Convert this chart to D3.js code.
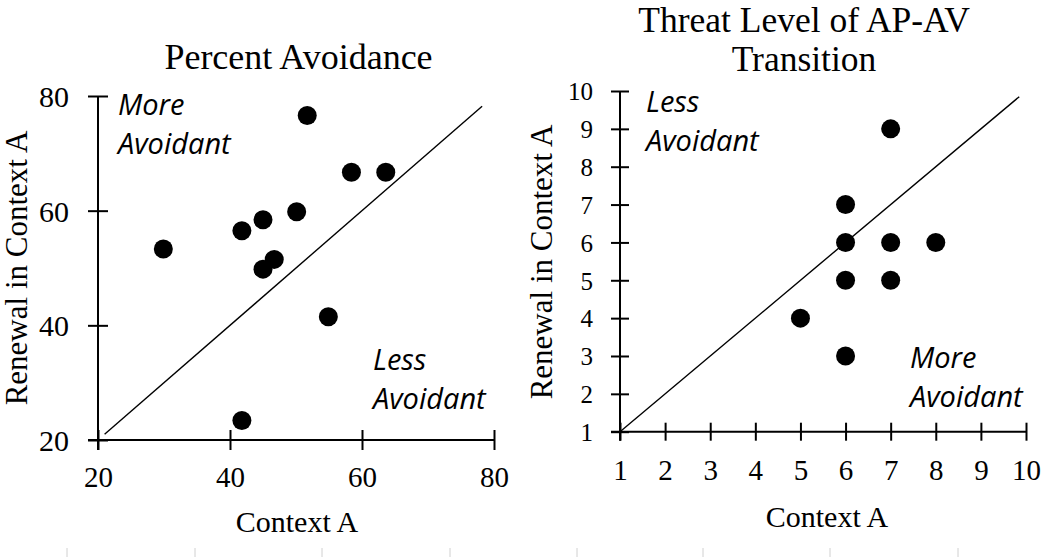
<!DOCTYPE html>
<html><head><meta charset="utf-8">
<script src="https://cdn.jsdelivr.net/npm/d3@7"></script>
<style>
html,body{margin:0;padding:0;background:#fff;}
svg{display:block;}
</style></head>
<body>
<svg id="chart" width="1050" height="557"></svg>
<script>
// ---- data ----
const leftTitle = "Percent Avoidance";
const rightTitle = ["Threat Level of AP-AV", "Transition"];
const xLabel = "Context A";
const yLabel = "Renewal in Context A";
const leftTicks = [20, 40, 60, 80];
const rightTicks = [1, 2, 3, 4, 5, 6, 7, 8, 9, 10];
const leftX = [51.7, 58.4, 63.6, 50.1, 45.0, 41.8, 29.9, 46.7, 45.0, 54.9, 41.8];
const leftY = [76.6, 66.7, 66.7, 59.8, 58.4, 56.5, 53.3, 51.5, 49.8, 41.5, 23.4];
const rightX = [7, 6, 6, 7, 8, 6, 7, 5, 6];
const rightY = [9, 7, 6, 6, 6, 5, 5, 4, 3];
const leftLine = [21, 78.2];
const rightLine = [1, 9.85];
const leftNotes = [["More", "Avoidant"], ["Less", "Avoidant"]];
const rightNotes = [["Less", "Avoidant"], ["More", "Avoidant"]];
const bottomMarks = [67, 195, 322, 450, 577, 703, 830, 958];

const svg = d3.select("#chart");
const serif = "'Liberation Serif','Times New Roman',serif";
const sans = "'Open Sans','Noto Sans',sans-serif";

function panel(cfg) {
  const x = d3.scaleLinear().domain(cfg.domain).range(cfg.xr);
  const y = d3.scaleLinear().domain(cfg.domain).range(cfg.yr);
  const g = svg.append("g");
  const tk = cfg.tick;

  // x axis
  const gx = g.append("g").attr("transform", `translate(0,${cfg.yr[0]})`)
    .call(d3.axisBottom(x).tickValues(cfg.ticks).tickSizeOuter(0).tickSize(tk));
  gx.select(".domain").attr("d", `M${cfg.xr[0] - tk},0H${cfg.xr[1]}`)
    .attr("stroke", "#000").attr("stroke-width", 2);
  gx.selectAll(".tick line").attr("y1", -tk).attr("y2", tk).attr("stroke", "#000").attr("stroke-width", 2);
  gx.selectAll(".tick text").attr("y", cfg.xLabOff).attr("dy", 0)
    .attr("font-family", serif).attr("font-size", cfg.xFont).attr("fill", "#000");

  // y axis
  const gy = g.append("g").attr("transform", `translate(${cfg.xr[0]},0)`)
    .call(d3.axisLeft(y).tickValues(cfg.ticks).tickSizeOuter(0).tickSize(tk));
  gy.select(".domain").attr("d", `M0,${cfg.yr[0] + tk}V${cfg.yr[1]}`)
    .attr("stroke", "#000").attr("stroke-width", 2);
  gy.selectAll(".tick line").attr("x1", tk).attr("x2", -tk).attr("stroke", "#000").attr("stroke-width", 2);
  gy.selectAll(".tick text").attr("x", -cfg.yLabOff).attr("dy", "0.35em")
    .attr("font-family", serif).attr("font-size", cfg.yFont).attr("fill", "#000");

  // diagonal
  g.append("line")
    .attr("x1", x(cfg.line[0])).attr("y1", y(cfg.line[0]))
    .attr("x2", x(cfg.line[1])).attr("y2", y(cfg.line[1]))
    .attr("stroke", "#000").attr("stroke-width", 1.4);

  // dots
  g.selectAll("circle.pt").data(cfg.xs.map((v, i) => [v, cfg.ys[i]])).join("circle")
    .attr("class", "pt").attr("cx", d => x(d[0])).attr("cy", d => y(d[1]))
    .attr("r", 9.5).attr("fill", "#000");

  // notes
  cfg.notes.forEach((n, i) => {
    const p = cfg.notePos[i];
    n.forEach((w, j) => {
      g.append("text").attr("x", p[0]).attr("y", p[1] + j * 39)
        .attr("font-family", sans).attr("font-style", "italic")
        .attr("font-size", 29).attr("fill", "#000").text(w);
    });
  });

  // axis titles
  g.append("text").attr("x", cfg.xTitle[0]).attr("y", cfg.xTitle[1])
    .attr("text-anchor", "middle").attr("font-family", serif).attr("font-size", 30).text(xLabel);
  g.append("text").attr("transform", `translate(${cfg.yTitle[0]},${cfg.yTitle[1]}) rotate(-90)`)
    .attr("text-anchor", "middle").attr("font-family", serif).attr("font-size", 31).text(yLabel);

  // titles
  cfg.title.forEach((t, i) => {
    g.append("text").attr("x", cfg.titlePos[0]).attr("y", cfg.titlePos[1] + i * cfg.titleGap)
      .attr("text-anchor", "middle").attr("font-family", serif).attr("font-size", cfg.titleFont).text(t);
  });
}

panel({
  domain: [20, 80], xr: [98, 494], yr: [440, 96], ticks: leftTicks, tick: 10,
  xLabOff: 47, yLabOff: 29, xFont: 29, yFont: 30,
  line: leftLine, xs: leftX, ys: leftY,
  notes: leftNotes, notePos: [[118, 115], [373, 370]],
  xTitle: [297, 532], yTitle: [27, 268],
  title: [leftTitle], titlePos: [298.5, 69], titleGap: 0, titleFont: 36
});

panel({
  domain: [1, 10], xr: [620, 1026], yr: [431.7, 91], ticks: rightTicks, tick: 9,
  xLabOff: 48, yLabOff: 27, xFont: 29, yFont: 25,
  line: rightLine, xs: rightX, ys: rightY,
  notes: rightNotes, notePos: [[646, 112], [910, 368]],
  xTitle: [827, 527], yTitle: [552, 262],
  title: rightTitle, titlePos: [804, 32], titleGap: 39, titleFont: 35.5
});

// faint marks at the bottom edge
svg.append("g").selectAll("line").data(bottomMarks).join("line")
  .attr("x1", d => d).attr("x2", d => d).attr("y1", 548).attr("y2", 557)
  .attr("stroke", "#d0d0d0").attr("stroke-width", 1);
</script>
</body></html>
